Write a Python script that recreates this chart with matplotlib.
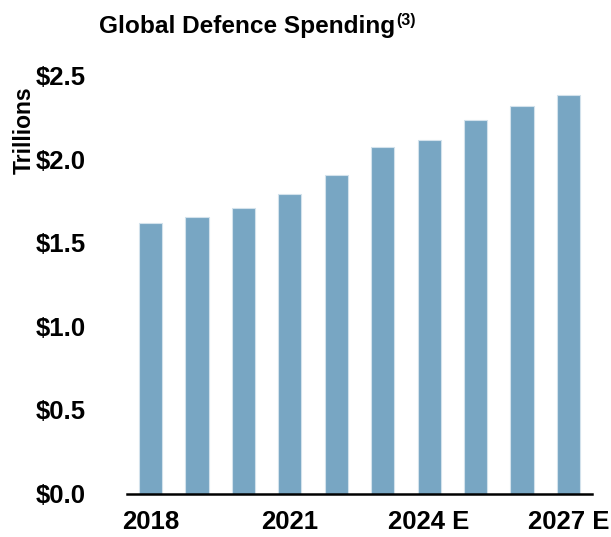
import matplotlib
matplotlib.use("Agg")
import matplotlib.pyplot as plt

years = ["2018", "2019", "2020", "2021", "2022", "2023", "2024 E", "2025 E", "2026 E", "2027 E"]
values = [1.618, 1.657, 1.708, 1.793, 1.909, 2.077, 2.115, 2.235, 2.319, 2.384]
shown_labels = ["2018", "2021", "2024 E", "2027 E"]
yticks = [0.0, 0.5, 1.0, 1.5, 2.0, 2.5]

plt.rcParams['font.family'] = ['Liberation Sans', 'DejaVu Sans']

fig = plt.figure(figsize=(6.11, 5.37), dpi=100)
ax = fig.add_axes([0.2084, 0.081, 0.76, 0.7775])

x = list(range(len(years)))
ax.bar(x, values, width=0.5, color='#78A6C3', edgecolor='#D3E2EC', linewidth=0.8)

ax.set_xlim(-0.5, len(years) - 0.5)
ax.set_ylim(0, 2.5)
ax.set_yticks(yticks)
ax.set_yticklabels([f"${v:.1f}" for v in yticks], fontsize=18.5, fontweight='bold')
ax.set_xticks([i for i, y in enumerate(years) if y in shown_labels])
ax.set_xticklabels([y for y in years if y in shown_labels], fontsize=18.5, fontweight='bold')
ax.tick_params(axis='both', length=0)
ax.tick_params(axis='y', pad=30)
ax.tick_params(axis='x', pad=12)

for s in ['top', 'right', 'left']:
    ax.spines[s].set_visible(False)
ax.spines['bottom'].set_linewidth(1.8)
ax.spines['bottom'].set_color('black')

fig.text(0.04, 0.758, "Trillions", rotation=90, fontsize=16.5, fontweight='bold',
         ha='center', va='center')

title = fig.text(99 / 611, 1 - 33 / 537, "Global Defence Spending", fontsize=17.6,
                 fontweight='bold', ha='left', va='baseline')
fig.canvas.draw()
bb = title.get_window_extent(renderer=fig.canvas.get_renderer())
fig.text(bb.x1 / fig.bbox.width + 0.002, 1 - 25 / 537, "(3)", fontsize=11.5,
         fontweight='bold', ha='left', va='baseline')

fig.savefig("out.png", dpi=100)
